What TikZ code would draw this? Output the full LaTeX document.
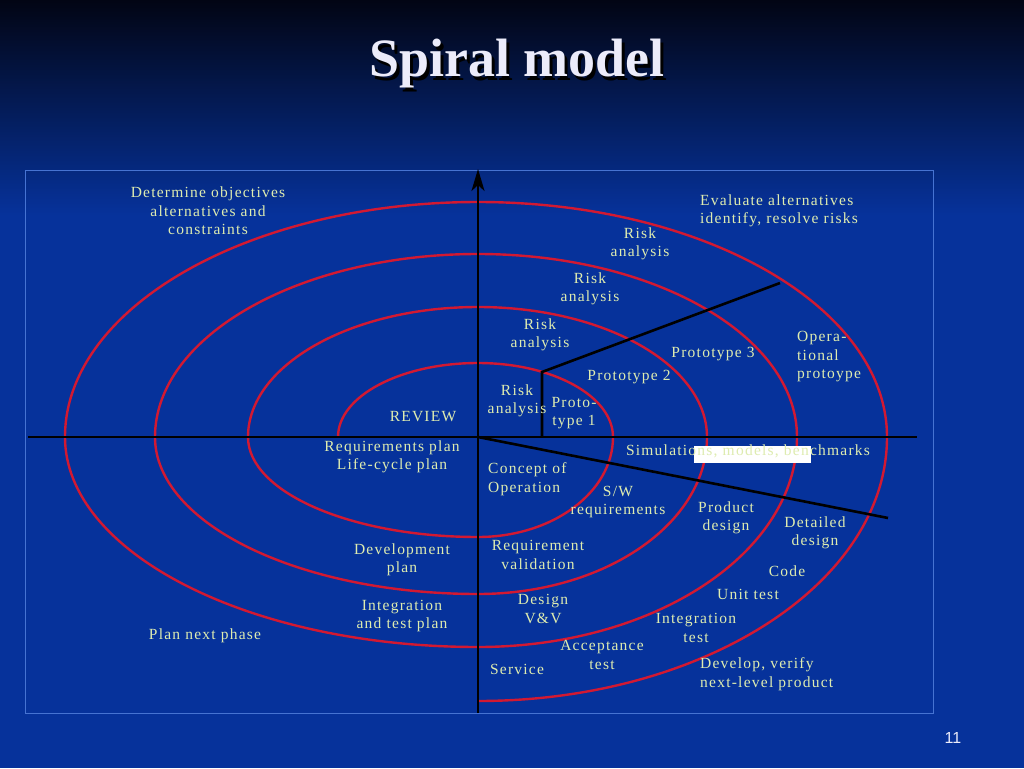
\documentclass[tikz,border=0pt]{standalone}
\usepackage{fontspec}
\setmainfont{Liberation Serif}
\newfontfamily\labelfont{Liberation Serif}[LetterSpace=8]
\newfontfamily\numfont{Liberation Sans}
\usetikzlibrary{arrows.meta}
\definecolor{slideblue}{RGB}{6,50,155}
\definecolor{slidetop}{RGB}{2,5,20}
\definecolor{framecol}{RGB}{70,115,210}
\definecolor{labeltext}{RGB}{222,236,176}
\definecolor{spiralred}{RGB}{210,25,50}
\definecolor{titlecol}{RGB}{236,236,250}

\begin{document}
\begin{tikzpicture}[x=1pt,y=-1pt,
      lbl/.style={font=\labelfont\fontsize{15.5}{18.5}\selectfont,text=labeltext,align=center,inner sep=0pt},
      axis line/.style={line width=2.6pt,black},
      spiral/.style={line width=2.4pt,spiralred}]

      \fill[slideblue] (0,0) rectangle (1024,768);
      \shade[top color=slidetop,bottom color=slideblue] (0,0) rectangle (1024,215);
      \useasboundingbox (0,0) rectangle (1024,768);
      \draw[framecol,line width=0.8pt] (25,170) rectangle (933,713);

      \node[font=\fontsize{54}{60}\selectfont\bfseries,text=black,anchor=base] at (520,80) {Spiral model};
      \node[font=\fontsize{54}{60}\selectfont\bfseries,text=titlecol,anchor=base] (title) at (517,77) {Spiral model};

      \coordinate (origin) at (478,437);
      \coordinate (axis-top) at (478,169);
      \coordinate (axis-bot) at (478,713);
      \coordinate (axis-left) at (28,437);
      \coordinate (axis-right) at (917,437);
      \coordinate (cut-end) at (888,518);
      \coordinate (proto-foot) at (542,437);
      \coordinate (proto-bend) at (542,372);
      \coordinate (risk-end) at (780,283);

      \draw[spiral] (338,437)
        \foreach \s/\rx/\ry in {180/140/74, 270/135/74, 0/135/100, 90/230/100,
                                180/230/130, 270/229/130, 0/229/157, 90/323/157,
                                180/323/183, 270/319/183, 0/319/210, 90/413/210,
                                180/413/235, 270/409/235, 0/409/264}
          { arc[start angle=\s, delta angle=90, x radius=\rx, y radius=\ry] };

      \draw[axis line,-{Stealth[length=22pt,width=13pt,inset=6pt]}] (axis-bot) -- (axis-top);
      \draw[axis line] (axis-left) -- (axis-right);
      \draw[axis line] (origin) -- (cut-end);
      \draw[axis line] (proto-foot) -- (proto-bend) -- (risk-end);

      \node[lbl] (determine) at (208,211) {Determine objectives\\alternatives and\\constraints};
      \node[lbl] (review) at (423,417) {REVIEW};
      \node[lbl,align=left,anchor=west] (evaluate) at (700,211) {Evaluate alternatives\\identify, resolve risks};
      \node[lbl] (risk-1) at (640,244) {Risk\\analysis};
      \node[lbl] (risk-2) at (590,289) {Risk\\analysis};
      \node[lbl] (risk-3) at (540,335) {Risk\\analysis};
      \node[lbl] (risk-4) at (517,401) {Risk\\analysis};
      \node[lbl] (proto-1) at (574,413) {Proto-\\type 1};
      \node[lbl] (proto-2) at (629,377) {Prototype 2};
      \node[lbl] (proto-3) at (713,354) {Prototype 3};
      \node[lbl,align=left,anchor=west] (operational) at (797,357) {Opera-\\tional\\protoype};

      \fill[white] (694,446) rectangle (811,463);
      \node[lbl] (simulations) at (748,451) {Simulations, models, benchmarks};
      \node[lbl,align=left,anchor=west] (concept) at (488,479) {Concept of\\Operation};
      \node[lbl] (sw-req) at (618,502) {S/W\\requirements};
      \node[lbl] (product) at (726,518) {Product\\design};
      \node[lbl] (detailed) at (815,533) {Detailed\\design};
      \node[lbl] (code) at (787,571) {Code};
      \node[lbl] (unit-test) at (748,594) {Unit test};
      \node[lbl] (integ-test) at (696,628) {Integration\\test};
      \node[lbl,align=left,anchor=west] (develop) at (700,674) {Develop, verify\\next-level product};
      \node[lbl] (req-val) at (538,555) {Requirement\\validation};
      \node[lbl] (design-vv) at (543,609) {Design\\V\&V};
      \node[lbl] (acceptance) at (602,655) {Acceptance\\test};
      \node[lbl] (service) at (517,669) {Service};

      \node[lbl] (req-plan) at (392,457) {Requirements plan\\Life-cycle plan};
      \node[lbl] (dev-plan) at (402,560) {Development\\plan};
      \node[lbl] (integ-plan) at (402,616) {Integration\\and test plan};
      \node[lbl] (plan-next) at (205,636) {Plan next phase};

      \node[font=\numfont\fontsize{16}{18}\selectfont,text=titlecol] (page-num) at (953,738) {11};
    \end{tikzpicture}
\end{document}
